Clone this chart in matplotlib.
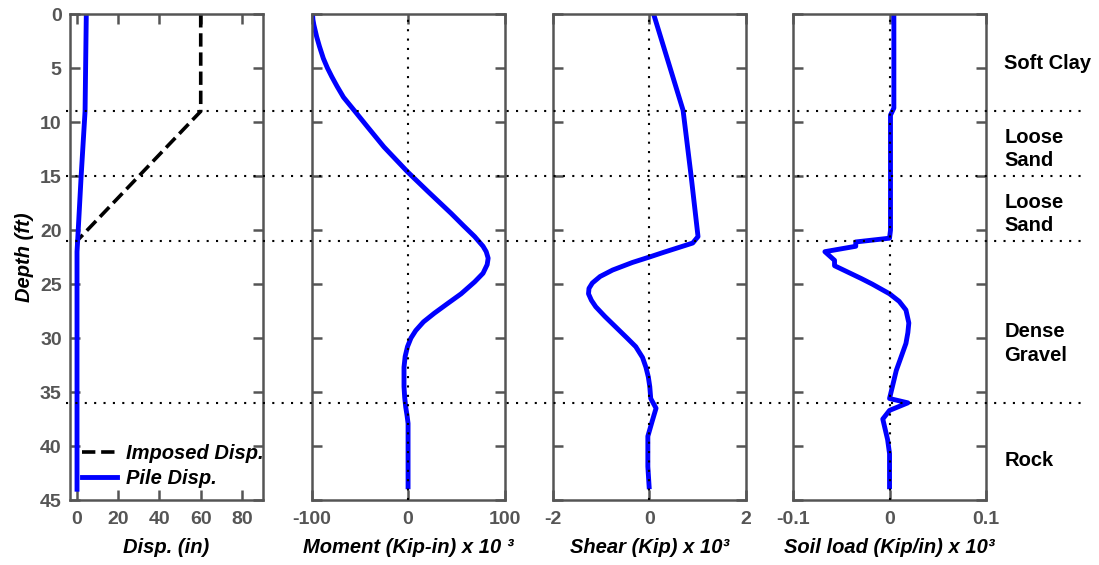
import matplotlib
matplotlib.use("Agg")
import matplotlib.pyplot as plt
import matplotlib.transforms as mtransforms
from matplotlib.lines import Line2D

plt.rcParams['font.family'] = ['Liberation Sans', 'DejaVu Sans']

# ---- data ----
layer_depths = [9, 15, 21, 36]
layer_names = ["Soft Clay", "Loose\nSand", "Loose\nSand", "Dense\nGravel", "Rock"]
layer_label_depths = [4.6, 12.5, 18.5, 30.5, 41.3]

imposed_depth = [0, 9, 21, 44]
imposed_disp = [60, 60, 0, 0]

pile_depth = [0, 9, 15, 21, 22, 44]
pile_disp = [4.5, 3.9, 2.0, 0.3, 0.0, 0.0]

moment_depth = [0, 0.5, 1.0, 2.1, 3.0, 4.1, 5.0, 5.8, 6.7, 7.7, 9.05, 10.4, 12.3,
                14.6, 16.4, 18.45, 19.6, 20.6, 21.5, 22.0, 22.6, 23.2, 24.0, 24.8,
                25.9, 26.8, 27.7, 28.5, 29.3, 30.0, 30.8, 31.7, 32.7, 34.5, 35.5,
                36.4, 37.2, 37.9, 44]
moment = [-99, -98.6, -97.6, -94.7, -91.8, -87.8, -83.5, -79, -73.5, -66.9, -54.6,
          -42.4, -25, -0.6, 20.3, 44.6, 57.5, 69, 77.7, 81, 83, 82, 77.7, 69,
          55, 41, 27.2, 16, 8, 3, -0.6, -3, -4.2, -4.2, -3.5, -2.4, -1, 0, 0]

shear_depth = [0, 8.9, 15.1, 20.6, 21.2, 21.7, 22.1, 22.5, 23.0, 23.7, 24.3, 24.9,
               25.4, 25.9, 26.5, 27.1, 28.0, 29.0, 30.0, 30.8, 31.8, 32.7, 33.6,
               34.5, 35.6, 36.5, 37.7, 39.1, 41.9, 44]
shear = [0.09, 0.70, 0.87, 1.01, 0.90, 0.55, 0.27, 0.0, -0.35, -0.76, -1.02, -1.18,
         -1.25, -1.26, -1.20, -1.11, -0.92, -0.69, -0.46, -0.28, -0.14, -0.07, -0.02,
         0.01, 0.03, 0.14, 0.06, -0.03, -0.03, 0.0]

soil_depth = [0, 8.7, 9.35, 20.0, 20.75, 21.1, 21.5, 22.0, 22.8, 23.3, 24.5, 25.0,
              25.9, 26.6, 27.4, 28.6, 29.5, 30.5, 33.0, 35.6, 36.0, 36.7, 37.5, 39.4,
              40.7, 44]
soil_load = [0.0045, 0.0045, 0.001, 0.001, 0.0, -0.035, -0.035, -0.067, -0.057,
             -0.057, -0.029, -0.018, 0.0, 0.010, 0.017, 0.020, 0.019, 0.017, 0.007,
             0.0, 0.019, 0.0, -0.007, -0.002, 0.0, 0.0]

gray = '#555555'
blue = '#0000ff'
dots = (0, (1, 3.5))
tick_fs = 14
label_fs = 14.5

fig = plt.figure(figsize=(10.99, 5.65), dpi=100)
lefts = [0.0637, 0.2835, 0.5030, 0.7216]
axes = [fig.add_axes([l, 0.115, 0.1756, 0.860]) for l in lefts]

xlims = [(-3.4, 90.2), (-100, 100), (-2, 2), (-0.1, 0.1)]
xticks = [[0, 20, 40, 60, 80], [-100, 0, 100], [-2, 0, 2], [-0.1, 0, 0.1]]
xlabels = ["Disp. (in)", "Moment (Kip-in) x 10 ³", "Shear (Kip) x 10³",
           "Soil load (Kip/in) x 10³"]

for i, ax in enumerate(axes):
    ax.set_xlim(*xlims[i])
    ax.set_ylim(45, 0)
    ax.set_xticks(xticks[i])
    ax.set_xticklabels([f"{t:g}" for t in xticks[i]])
    ax.set_yticks(range(0, 46, 5))
    ax.tick_params(direction='in', length=7, width=1.8, color=gray, labelcolor=gray,
                   labelsize=tick_fs, top=True, right=True, pad=6)
    ax.tick_params(axis='x', pad=8)
    for lbl in ax.get_xticklabels() + ax.get_yticklabels():
        lbl.set_fontweight('bold')
    if i > 0:
        ax.set_yticklabels([])
    for sp in ax.spines.values():
        sp.set_color(gray)
        sp.set_linewidth(1.8)
    ax.set_xlabel(xlabels[i], fontsize=label_fs, fontweight='bold', style='italic',
                  labelpad=7)
    if i > 0:
        ax.axvline(0, color='k', ls=dots, lw=1.5, zorder=5)

ax1, ax2, ax3, ax4 = axes
ax1.set_ylabel("Depth (ft)", fontsize=label_fs, fontweight='bold', style='italic',
               labelpad=4)

ax1.plot(imposed_disp, imposed_depth, color='k', ls='--', lw=2.6, label="Imposed Disp.")
ax1.plot(pile_disp, pile_depth, color=blue, lw=3.5, label="Pile Disp.")
ax1.legend(loc='lower left', frameon=False, handlelength=1.75, handletextpad=0.45,
           borderaxespad=0.2, labelspacing=0.3,
           prop={'size': label_fs, 'weight': 'bold', 'style': 'italic'},
           bbox_to_anchor=(0.0, 0.0))

kw = dict(color=blue, lw=3.5, solid_joinstyle='round', solid_capstyle='butt')
ax2.plot(moment, moment_depth, **kw)
ax3.plot(shear, shear_depth, **kw)
ax4.plot(soil_load, soil_depth, **kw)

# layer boundaries across all panels
trans = mtransforms.blended_transform_factory(fig.transFigure, ax1.transData)
for d in layer_depths:
    fig.add_artist(Line2D([0.060, 0.987], [d, d], transform=trans, color='k',
                          ls=dots, lw=1.5, zorder=10))

for name, d in zip(layer_names, layer_label_depths):
    fig.text(0.914, d, name, transform=trans, fontsize=label_fs, fontweight='bold',
             va='center', ha='left', linespacing=1.3)

fig.savefig("out.png", dpi=100)
